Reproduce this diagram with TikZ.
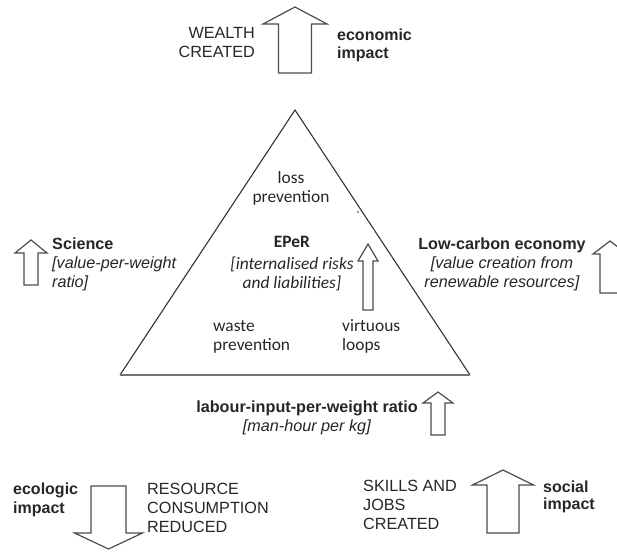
\documentclass[tikz,border=0pt]{standalone}
\usepackage{fontspec}
\setmainfont{Liberation Sans}
\newfontfamily\calfont{Carlito}
\newcommand{\blockarr}[6]{% tipx, tipy, half head, half shaft, wing y, end y
  \draw[blockarrow] (#1,#2) -- (#1+#3,#5) -- (#1+#4,#5) -- (#1+#4,#6) -- (#1-#4,#6) -- (#1-#4,#5) -- (#1-#3,#5) -- cycle;}
\tikzset{
  blockarrow/.style={draw=black!70, line width=1.2pt, line join=miter, fill=white},
  ariallbl/.style={inner sep=0pt, text=black!85, font=\fontsize{16.2}{19}\selectfont},
  boldlbl/.style={inner sep=0pt, text=black!85, font=\fontsize{16}{18.5}\selectfont\bfseries},
  callbl/.style={inner sep=0pt, text=black!85, font=\calfont\fontsize{17.4}{19}\selectfont},
  triline/.style={draw=black!80, line width=1.1pt}
}
\begin{document}
\begin{tikzpicture}[x=1pt,y=-1pt]
\useasboundingbox (0,0) rectangle (617,554);
\begin{scope}
\clip (0,0) rectangle (617,554);
% triangle
\coordinate (apex) at (295,110);
\coordinate (bl) at (120,375);
\coordinate (br) at (470,375);
\draw[triline] (bl) -- (apex) -- (br);
\draw[draw=black!55, line width=1.4pt] (bl) -- (br);
\fill[blue] (358,212) circle (0.8);

% arrows
\blockarr{295}{7}{32}{16.5}{24}{73}
\blockarr{31}{240}{16}{7}{253}{285}
\blockarr{610}{241}{17}{10}{254}{293}
\blockarr{368}{244}{10}{5}{261}{310}
\blockarr{438}{392}{15}{7}{403}{435}
\blockarr{108.5}{549}{34}{17.5}{533}{486}
\blockarr{503}{470}{30.5}{16}{485}{533}
\end{scope}

% labels (base anchor = baseline of last line)
\node[ariallbl, align=right, anchor=base east] (wealth) at (255,57.5) {WEALTH\\CREATED};
\node[boldlbl, align=left, anchor=base west] (econ) at (337,58.5) {economic\\impact};
\node[ariallbl, align=left, anchor=base west] (science) at (52,287) {\textbf{Science}\\\textit{[value-per-weight}\\\textit{ratio]}};
\node[ariallbl, align=center, anchor=base] (lowc) at (502,287) {\textbf{Low-carbon economy}\\\textit{[value creation from}\\\textit{renewable resources]}};
\node[callbl, align=center, anchor=base] (loss) at (291,202) {loss\\prevention};
\node[callbl, align=center, anchor=base] (eper) at (292,288.5) {\textbf{EPeR}\\[3.5pt]\textit{[internalised risks}\\\textit{and liabilities]}};
\node[callbl, align=left, anchor=base west] (waste) at (213,350) {waste\\prevention};
\node[callbl, align=left, anchor=base west] (virt) at (342,350) {virtuous\\loops};
\node[ariallbl, align=center, anchor=base] (labour) at (307,431) {\textbf{labour-input-per-weight ratio}\\\textit{[man-hour per kg]}};
\node[boldlbl, align=left, anchor=base west] (ecol) at (13,513) {ecologic\\impact};
\node[ariallbl, align=left, anchor=base west] (resource) at (147,532.5) {RESOURCE\\CONSUMPTION\\REDUCED};
\node[ariallbl, align=left, anchor=base west] (skills) at (363,529.5) {SKILLS AND\\JOBS\\CREATED};
\node[boldlbl, align=left, anchor=base west, font=\fontsize{16}{17}\selectfont\bfseries] (social) at (543,509) {social\\impact};
\end{tikzpicture}
\end{document}
